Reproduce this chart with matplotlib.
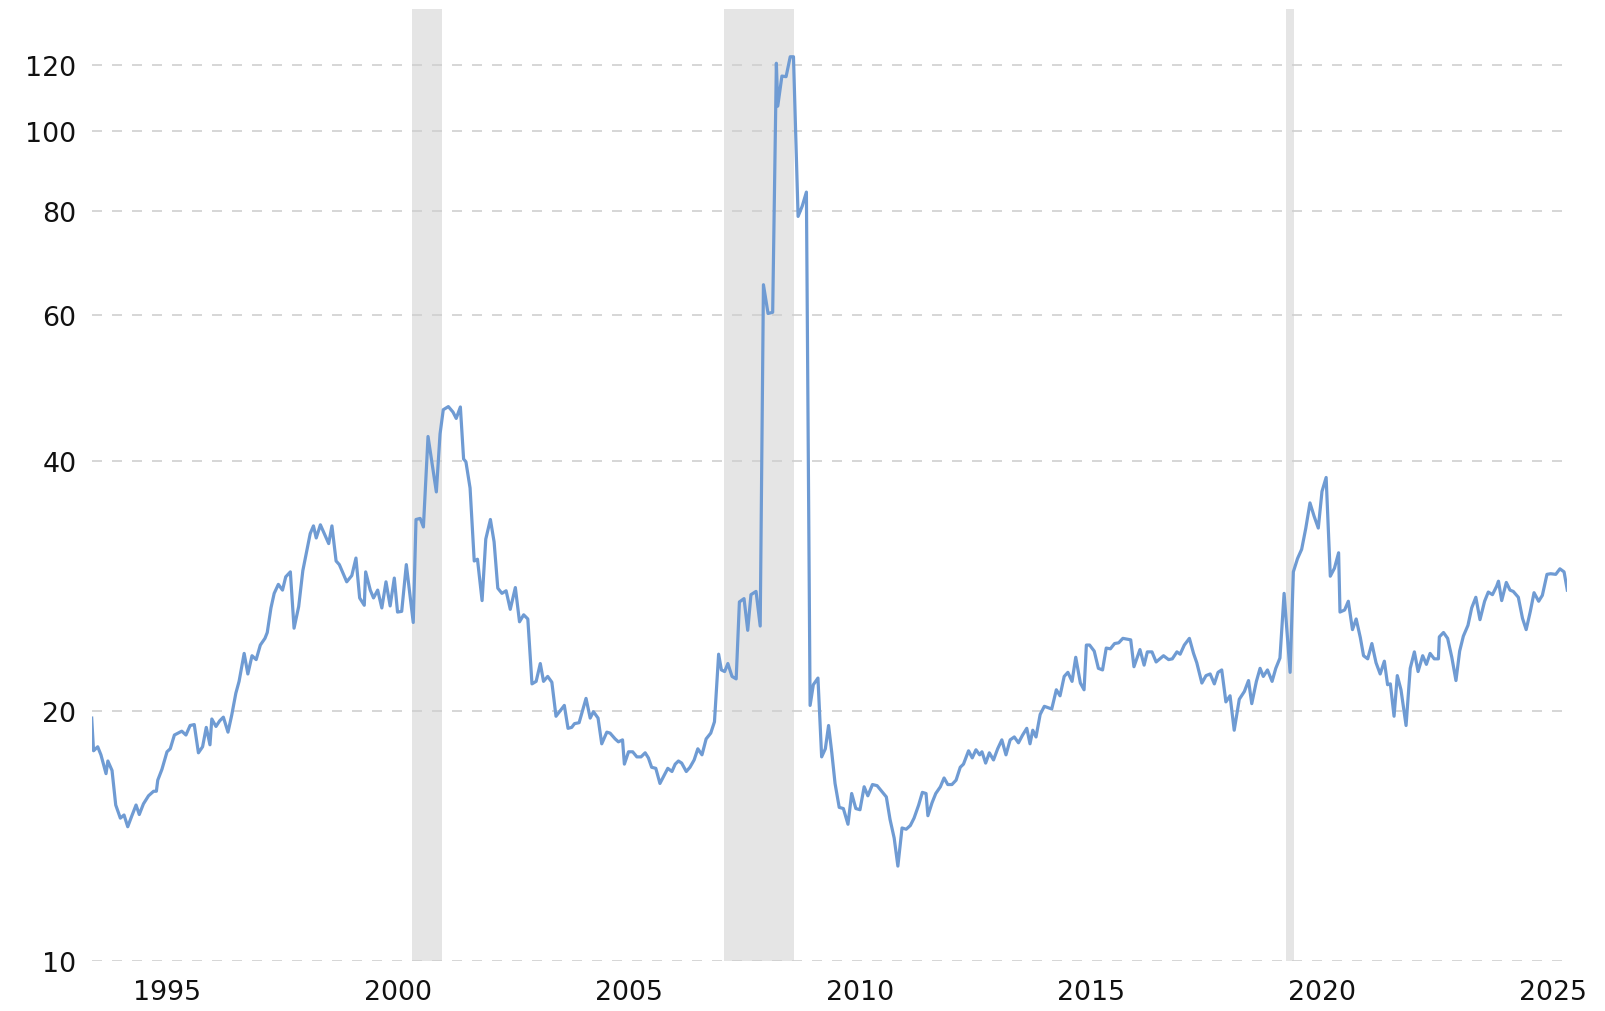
import matplotlib
matplotlib.use("Agg")
import matplotlib.pyplot as plt
from matplotlib.ticker import FixedLocator, NullLocator

plt.rcParams['font.family'] = ['DejaVu Sans']
plt.rcParams['lines.scale_dashes'] = False

# chart-year positions (decimal years on the chart's own axis) and P/E values
dates = [
    1993.36, 1993.40, 1993.49, 1993.56, 1993.67, 1993.71, 1993.80, 1993.88, 1993.98, 1994.06,
    1994.14, 1994.23, 1994.32, 1994.39, 1994.48, 1994.59, 1994.70, 1994.76, 1994.79, 1994.88,
    1994.99, 1995.06, 1995.15, 1995.31, 1995.40, 1995.49, 1995.58, 1995.67, 1995.76, 1995.84,
    1995.92, 1995.96, 1996.05, 1996.13, 1996.21, 1996.31, 1996.39, 1996.48, 1996.55, 1996.66,
    1996.74, 1996.83, 1996.92, 1997.01, 1997.11, 1997.16, 1997.24, 1997.31, 1997.40, 1997.49,
    1997.56, 1997.66, 1997.74, 1997.84, 1997.93, 1998.09, 1998.16, 1998.22, 1998.31, 1998.49,
    1998.56, 1998.65, 1998.72, 1998.88, 1998.99, 1999.08, 1999.16, 1999.26, 1999.29, 1999.39,
    1999.46, 1999.55, 1999.64, 1999.73, 1999.82, 1999.91, 1999.98, 2000.07, 2000.17, 2000.32,
    2000.38, 2000.47, 2000.54, 2000.64, 2000.82, 2000.90, 2000.97, 2001.08, 2001.18, 2001.25,
    2001.34, 2001.41, 2001.46, 2001.55, 2001.64, 2001.71, 2001.81, 2001.89, 2001.99, 2002.07,
    2002.15, 2002.24, 2002.33, 2002.42, 2002.53, 2002.62, 2002.71, 2002.80, 2002.89, 2002.98,
    2003.07, 2003.14, 2003.23, 2003.32, 2003.41, 2003.50, 2003.59, 2003.67, 2003.75, 2003.81,
    2003.91, 2004.06, 2004.15, 2004.22, 2004.32, 2004.40, 2004.51, 2004.58, 2004.69, 2004.76,
    2004.85, 2004.89, 2004.98, 2005.07, 2005.16, 2005.25, 2005.34, 2005.41, 2005.48, 2005.57,
    2005.66, 2005.83, 2005.92, 2005.99, 2006.06, 2006.13, 2006.23, 2006.31, 2006.40, 2006.48,
    2006.57, 2006.66, 2006.76, 2006.84, 2006.93, 2006.99, 2007.06, 2007.13, 2007.22, 2007.31,
    2007.38, 2007.48, 2007.56, 2007.63, 2007.74, 2007.83, 2007.90, 2008.00, 2008.10, 2008.18,
    2008.21, 2008.30, 2008.39, 2008.48, 2008.55, 2008.65, 2008.74, 2008.83, 2008.91, 2008.98,
    2009.08, 2009.16, 2009.24, 2009.31, 2009.38, 2009.45, 2009.54, 2009.63, 2009.73, 2009.81,
    2009.90, 2009.99, 2010.08, 2010.16, 2010.26, 2010.36, 2010.46, 2010.56, 2010.64, 2010.73,
    2010.81, 2010.90, 2010.99, 2011.08, 2011.16, 2011.26, 2011.34, 2011.42, 2011.46, 2011.55,
    2011.63, 2011.73, 2011.81, 2011.89, 2011.98, 2012.07, 2012.16, 2012.23, 2012.34, 2012.42,
    2012.50, 2012.58, 2012.63, 2012.71, 2012.79, 2012.88, 2012.97, 2013.06, 2013.15, 2013.24,
    2013.33, 2013.42, 2013.51, 2013.60, 2013.67, 2013.73, 2013.80, 2013.89, 2013.98, 2014.14,
    2014.24, 2014.32, 2014.41, 2014.49, 2014.58, 2014.66, 2014.76, 2014.84, 2014.89, 2014.96,
    2015.06, 2015.15, 2015.24, 2015.32, 2015.41, 2015.50, 2015.59, 2015.68, 2015.77, 2015.85,
    2015.92, 2016.05, 2016.14, 2016.21, 2016.31, 2016.40, 2016.56, 2016.67, 2016.75, 2016.85,
    2016.92, 2017.01, 2017.12, 2017.21, 2017.28, 2017.39, 2017.48, 2017.57, 2017.66, 2017.74,
    2017.82, 2017.91, 2018.00, 2018.09, 2018.20, 2018.31, 2018.40, 2018.47, 2018.57, 2018.65,
    2018.72, 2018.81, 2018.91, 2018.99, 2019.08, 2019.17, 2019.30, 2019.37, 2019.46, 2019.55,
    2019.64, 2019.73, 2019.82, 2019.91, 2019.99, 2020.08, 2020.17, 2020.26, 2020.35, 2020.38,
    2020.48, 2020.56, 2020.65, 2020.73, 2020.82, 2020.89, 2020.98, 2021.07, 2021.16, 2021.25,
    2021.34, 2021.41, 2021.47, 2021.55, 2021.62, 2021.70, 2021.81, 2021.90, 2021.99, 2022.07,
    2022.17, 2022.25, 2022.33, 2022.42, 2022.51, 2022.53, 2022.62, 2022.71, 2022.80, 2022.89,
    2022.97, 2023.05, 2023.15, 2023.23, 2023.32, 2023.41, 2023.51, 2023.59, 2023.68, 2023.77,
    2023.81, 2023.88, 2023.98, 2024.06, 2024.13, 2024.24, 2024.33, 2024.41, 2024.50, 2024.58,
    2024.68, 2024.76, 2024.86, 2024.94, 2025.05, 2025.14, 2025.23, 2025.30,
]

pe_ratio = [
    19.6, 17.9, 18.1, 17.7, 16.8, 17.4, 16.95, 15.4, 14.85, 14.98,
    14.5, 14.95, 15.4, 15.0, 15.45, 15.8, 16.0, 16.0, 16.5, 17.0,
    17.85, 18.0, 18.7, 18.9, 18.7, 19.2, 19.25, 17.8, 18.1, 19.1,
    18.2, 19.55, 19.15, 19.45, 19.65, 18.85, 19.75, 21.0, 21.7, 23.45,
    22.15, 23.3, 23.05, 24.0, 24.45, 24.85, 26.6, 27.7, 28.4, 27.95,
    29.0, 29.4, 25.15, 26.7, 29.5, 32.7, 33.4, 32.3, 33.5, 31.8,
    33.4, 30.3, 30.0, 28.6, 29.1, 30.55, 27.35, 26.8, 29.4, 27.95,
    27.35, 27.95, 26.6, 28.6, 26.75, 28.9, 26.3, 26.35, 30.0, 25.55,
    34.0, 34.1, 33.3, 42.8, 36.7, 43.1, 46.1, 46.5, 45.8, 45.0,
    46.45, 40.2, 39.9, 37.1, 30.3, 30.45, 27.15, 32.2, 34.0, 31.95,
    28.1, 27.7, 27.9, 26.5, 28.15, 25.6, 26.1, 25.8, 21.55, 21.7,
    22.8, 21.7, 22.0, 21.65, 19.7, 20.0, 20.3, 19.05, 19.1, 19.3,
    19.35, 20.7, 19.6, 19.95, 19.6, 18.25, 18.85, 18.8, 18.5, 18.35,
    18.45, 17.25, 17.85, 17.85, 17.6, 17.6, 17.8, 17.55, 17.1, 17.05,
    16.35, 17.05, 16.9, 17.25, 17.4, 17.3, 16.9, 17.1, 17.45, 18.0,
    17.7, 18.5, 18.8, 19.4, 23.4, 22.4, 22.3, 22.8, 22.0, 21.85,
    27.05, 27.3, 25.0, 27.6, 27.85, 25.3, 65.2, 60.2, 60.4, 120.5,
    107.0, 116.3, 116.1, 122.7, 122.7, 78.8, 81.1, 84.3, 20.3, 21.5,
    21.9, 17.6, 18.0, 19.2, 17.8, 16.35, 15.3, 15.25, 14.6, 15.9,
    15.25, 15.2, 16.2, 15.8, 16.3, 16.25, 16.0, 15.75, 14.8, 14.05,
    13.0, 14.45, 14.4, 14.55, 14.85, 15.4, 15.95, 15.9, 14.95, 15.5,
    15.9, 16.2, 16.6, 16.3, 16.3, 16.5, 17.1, 17.25, 17.9, 17.55,
    17.95, 17.7, 17.85, 17.3, 17.8, 17.45, 18.0, 18.45, 17.7, 18.45,
    18.6, 18.3, 18.7, 19.05, 18.25, 18.95, 18.6, 19.8, 20.25, 20.1,
    21.2, 20.85, 22.0, 22.25, 21.7, 23.2, 21.6, 21.2, 24.0, 24.0,
    23.6, 22.5, 22.4, 23.8, 23.75, 24.1, 24.15, 24.45, 24.4, 24.35,
    22.6, 23.7, 22.7, 23.55, 23.55, 22.9, 23.3, 23.05, 23.1, 23.55,
    23.4, 24.0, 24.45, 23.45, 22.85, 21.6, 22.05, 22.15, 21.55, 22.25,
    22.4, 20.5, 20.85, 18.95, 20.65, 21.1, 21.75, 20.4, 21.7, 22.5,
    22.0, 22.4, 21.7, 22.5, 23.15, 27.7, 22.25, 29.4, 30.5, 31.3,
    33.2, 35.6, 34.3, 33.2, 36.75, 38.2, 29.05, 29.7, 31.0, 26.3,
    26.45, 27.1, 25.05, 25.8, 24.5, 23.3, 23.1, 24.1, 22.85, 22.15,
    22.95, 21.5, 21.55, 19.7, 22.05, 21.2, 19.2, 22.5, 23.55, 22.3,
    23.3, 22.75, 23.45, 23.1, 23.1, 24.55, 24.85, 24.45, 23.2, 21.75,
    23.6, 24.6, 25.35, 26.6, 27.4, 25.75, 27.1, 27.8, 27.6, 28.25,
    28.65, 27.15, 28.55, 27.95, 27.85, 27.4, 25.85, 25.05, 26.35, 27.75,
    27.1, 27.55, 29.2, 29.25, 29.2, 29.65, 29.4, 27.95,
]

recession_starts = [2000.30, 2007.05, 2019.21]
recession_ends = [2000.95, 2008.57, 2019.39]

y_ticks = [10, 20, 40, 60, 80, 100, 120]
x_ticks = [1995, 2000, 2005, 2010, 2015, 2020, 2025]

W, H = 1606, 1012
fig = plt.figure(figsize=(W / 100, H / 100), dpi=100)
ax = fig.add_axes([91.7 / W, 1 - 961.7 / H, (1567.3 - 91.7) / W, (961.7 - 10.2) / H])

for s, e in zip(recession_starts, recession_ends):
    ax.axvspan(s, e, color='#e5e5e5', lw=0, zorder=0)

ax.plot(dates, pe_ratio, color='#6f9bd3', lw=2.3, solid_joinstyle='round', zorder=3)

ax.set_yscale('log')
ax.set_ylim(10, 140)
ax.set_xlim(dates[0], dates[-1])

ax.yaxis.set_major_locator(FixedLocator(y_ticks))
ax.yaxis.set_minor_locator(NullLocator())
ax.set_yticklabels([str(v) for v in y_ticks])
ax.xaxis.set_major_locator(FixedLocator(x_ticks))
ax.set_xticklabels([str(v) for v in x_ticks])

ax.grid(axis='y', color='#cfcfcf', lw=1.2, dashes=(7.2, 7.2), zorder=1)
ax.grid(axis='x', visible=False)
for sp in ax.spines.values():
    sp.set_visible(False)
ax.tick_params(axis='both', length=0, labelsize=19.3, colors='#111111')
ax.tick_params(axis='y', pad=11)
ax.tick_params(axis='x', pad=13)

fig.savefig('out.png', dpi=100, facecolor='white')
